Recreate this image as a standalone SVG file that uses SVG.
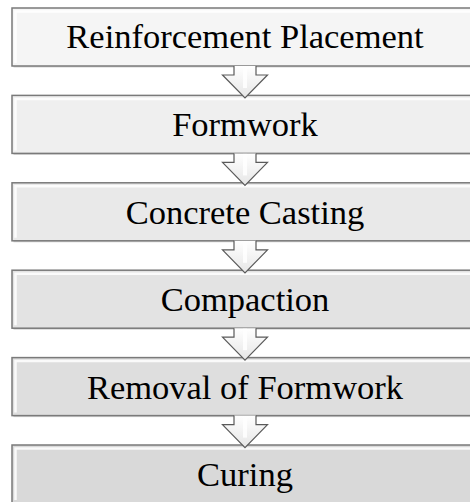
<svg xmlns="http://www.w3.org/2000/svg" width="470" height="502" viewBox="0 0 470 502">
<defs>
<style>
.box{stroke:#7a7a7a;stroke-width:1.5}
.sh{fill:#b8b8b8;opacity:0.6}
.bev{fill:none;stroke:#ffffff;stroke-width:2.5;opacity:0.85}
.lbl{font-family:"Liberation Serif","Times New Roman",serif;font-size:34.5px;fill:#000;text-anchor:middle}
.arr{stroke:#5a5a5a;stroke-width:1.2;fill:url(#ag);stroke-linejoin:miter}
.hl{stroke:#ffffff;stroke-width:4;opacity:0.9}
</style>
<linearGradient id="ag" x1="0" y1="0" x2="0" y2="1">
<stop offset="0" stop-color="#ffffff"/>
<stop offset="1" stop-color="#e6e6e6"/>
</linearGradient>
</defs>
<rect width="470" height="502" fill="#ffffff"/>
<g id="node1">
<rect class="sh" x="13.5" y="9.5" width="466" height="58"/>
<rect class="box" x="12" y="8" width="466" height="58" fill="#f5f5f5"/>
<path class="bev" d="M15.5,63 L15.5,11.5 L475,11.5"/>
<text class="lbl" x="245" y="48">Reinforcement Placement</text>
</g>
<g id="node2">
<rect class="sh" x="13.5" y="96.9" width="466" height="58"/>
<rect class="box" x="12" y="95.4" width="466" height="58" fill="#efefef"/>
<path class="bev" d="M15.5,150.4 L15.5,98.9 L475,98.9"/>
<text class="lbl" x="245" y="136.4">Formwork</text>
</g>
<g id="node3">
<rect class="sh" x="13.5" y="184.3" width="466" height="58"/>
<rect class="box" x="12" y="182.8" width="466" height="58" fill="#e9e9e9"/>
<path class="bev" d="M15.5,237.8 L15.5,186.3 L475,186.3"/>
<text class="lbl" x="245" y="223.8">Concrete Casting</text>
</g>
<g id="node4">
<rect class="sh" x="13.5" y="271.7" width="466" height="58"/>
<rect class="box" x="12" y="270.2" width="466" height="58" fill="#e3e3e3"/>
<path class="bev" d="M15.5,325.2 L15.5,273.7 L475,273.7"/>
<text class="lbl" x="245" y="311.2">Compaction</text>
</g>
<g id="node5">
<rect class="sh" x="13.5" y="359.1" width="466" height="58"/>
<rect class="box" x="12" y="357.6" width="466" height="58" fill="#dedede"/>
<path class="bev" d="M15.5,412.6 L15.5,361.1 L475,361.1"/>
<text class="lbl" x="245" y="398.6">Removal of Formwork</text>
</g>
<g id="node6">
<rect class="sh" x="13.5" y="446.5" width="466" height="58"/>
<rect class="box" x="12" y="445" width="466" height="58" fill="#d9d9d9"/>
<path class="bev" d="M15.5,500 L15.5,448.5 L475,448.5"/>
<text class="lbl" x="245" y="486">Curing</text>
</g>
<g id="connectors">
<g transform="translate(0,66)">
<path class="arr" d="M234,0 L234,9 L222.5,9 L245,32 L267.5,9 L256,9 L256,0"/>
<line class="hl" x1="245" y1="0.5" x2="245" y2="22"/>
</g>
<g transform="translate(0,153.4)">
<path class="arr" d="M234,0 L234,9 L222.5,9 L245,32 L267.5,9 L256,9 L256,0"/>
<line class="hl" x1="245" y1="0.5" x2="245" y2="22"/>
</g>
<g transform="translate(0,240.8)">
<path class="arr" d="M234,0 L234,9 L222.5,9 L245,32 L267.5,9 L256,9 L256,0"/>
<line class="hl" x1="245" y1="0.5" x2="245" y2="22"/>
</g>
<g transform="translate(0,328.2)">
<path class="arr" d="M234,0 L234,9 L222.5,9 L245,32 L267.5,9 L256,9 L256,0"/>
<line class="hl" x1="245" y1="0.5" x2="245" y2="22"/>
</g>
<g transform="translate(0,415.6)">
<path class="arr" d="M234,0 L234,9 L222.5,9 L245,32 L267.5,9 L256,9 L256,0"/>
<line class="hl" x1="245" y1="0.5" x2="245" y2="22"/>
</g>
</g>
</svg>
